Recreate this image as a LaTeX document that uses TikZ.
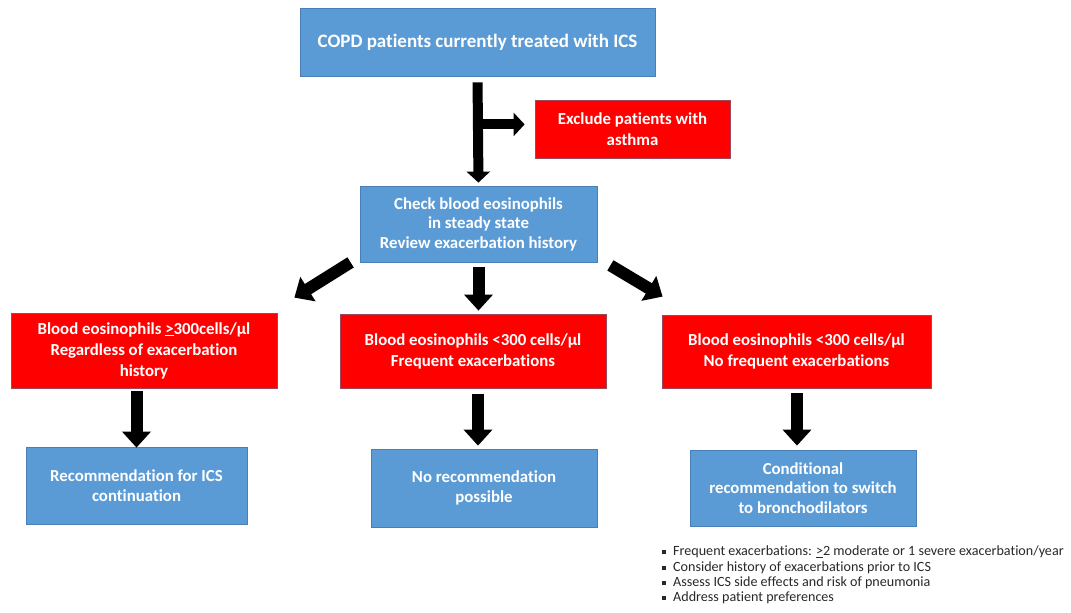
\documentclass[tikz,border=0pt]{standalone}
\usepackage{fontspec}
\setmainfont[Ligatures={NoCommon}]{Carlito}
\usetikzlibrary{arrows.meta,calc}
\definecolor{boxblue}{HTML}{5B9BD5}
\definecolor{blueedge}{HTML}{4A7FB5}
\definecolor{boxred}{HTML}{FF0000}
\definecolor{rededge}{HTML}{9A4A5A}
\tikzset{
  bluebox/.style={fill=boxblue, draw=blueedge, line width=0.8pt, inner sep=0pt, align=center, text=white, font=\bfseries\fontsize{16.8}{19.5}\selectfont},
  redbox/.style={fill=boxred, draw=rededge, line width=0.8pt, inner sep=0pt, align=center, text=white, font=\bfseries\fontsize{16.8}{21}\selectfont},
  thinarrow/.style={line width=10pt, -{Triangle[width=23pt,length=11pt]}},
  bigarrow/.style={line width=12pt, -{Triangle[width=28pt,length=16pt]}},
}
\begin{document}
\begin{tikzpicture}[x=1pt,y=-1pt]
\useasboundingbox (0,0) rectangle (1071,613);
% boxes
\node[bluebox, minimum width=355pt, minimum height=68pt, font=\bfseries\fontsize{19}{22}\selectfont] (top) at (477.5,42) {COPD patients currently treated with ICS};
\node[redbox, minimum width=195pt, minimum height=58pt] (excl) at (632.5,129) {Exclude patients with\\asthma};
\node[bluebox, minimum width=237pt, minimum height=76pt] (check) at (478.5,224) {Check blood eosinophils\\in steady state\\Review exacerbation history};
\node[redbox, minimum width=266pt, minimum height=75pt] (rl) at (144,350.5) {Blood eosinophils \underline{>}300cells/µl\\Regardless of exacerbation\\history};
\node[redbox, minimum width=266pt, minimum height=74pt] (rm) at (473,351) {Blood eosinophils <300 cells/µl\\Frequent exacerbations};
\node[redbox, minimum width=269pt, minimum height=73pt] (rr) at (796.5,351.5) {Blood eosinophils <300 cells/µl\\No frequent exacerbations};
\node[bluebox, minimum width=221pt, minimum height=77pt] (bl) at (136.5,485.5) {Recommendation for ICS\\continuation};
\node[bluebox, minimum width=226pt, minimum height=78pt] (bm) at (484,488) {No recommendation\\possible};
\node[bluebox, minimum width=226pt, minimum height=76pt] (br) at (803,488) {Conditional\\recommendation to switch\\to bronchodilators};
% notes
\node[anchor=north west, inner sep=0pt, align=left, font=\fontsize{14.1}{15.3}\selectfont, text={rgb,255:red,40;green,40;blue,40}] (notes) at (662,546)
{\rule[1.5pt]{4pt}{4pt}\hspace{7pt}Frequent exacerbations: \underline{>}2 moderate or 1 severe exacerbation/year\\
\rule[1.5pt]{4pt}{4pt}\hspace{7pt}Consider history of exacerbations prior to ICS\\
\rule[1.5pt]{4pt}{4pt}\hspace{7pt}Assess ICS side effects and risk of pneumonia\\
\rule[1.5pt]{4pt}{4pt}\hspace{7pt}Address patient preferences};
% arrows
\coordinate (branch) at ($(top.south)+(0,48)$);
\coordinate (ms) at ($(rm.south)+(5,0)$);
\coordinate (rs) at ($(rr.south)+(0.5,0)$);
\draw[thinarrow, shorten <=6pt, shorten >=3pt] (top.south) -- (check.north);
\draw[thinarrow, shorten >=10pt] ($(branch)+(-0.5,0)$) -- (branch -| excl.west);
\draw[bigarrow, shorten <=5pt, shorten >=3pt] (check.south) -- (check.south |- rm.north);
\draw[bigarrow] ($(check.south west)+(-9,0)$) -- ($(rl.north east)+(17,-15)$);
\draw[bigarrow] ($(check.south east)+(13,3)$) -- ($(rr.north west)+(1,-18)$);
\draw[bigarrow, shorten <=3pt, shorten >=0pt] (bl.north |- rl.south) -- ($(bl.north)+(0,1)$);
\draw[bigarrow, shorten <=6pt, shorten >=3pt] (ms) -- (ms |- bm.north);
\draw[bigarrow, shorten <=5pt, shorten >=4pt] (rs) -- (rs |- br.north);
\end{tikzpicture}
\end{document}
